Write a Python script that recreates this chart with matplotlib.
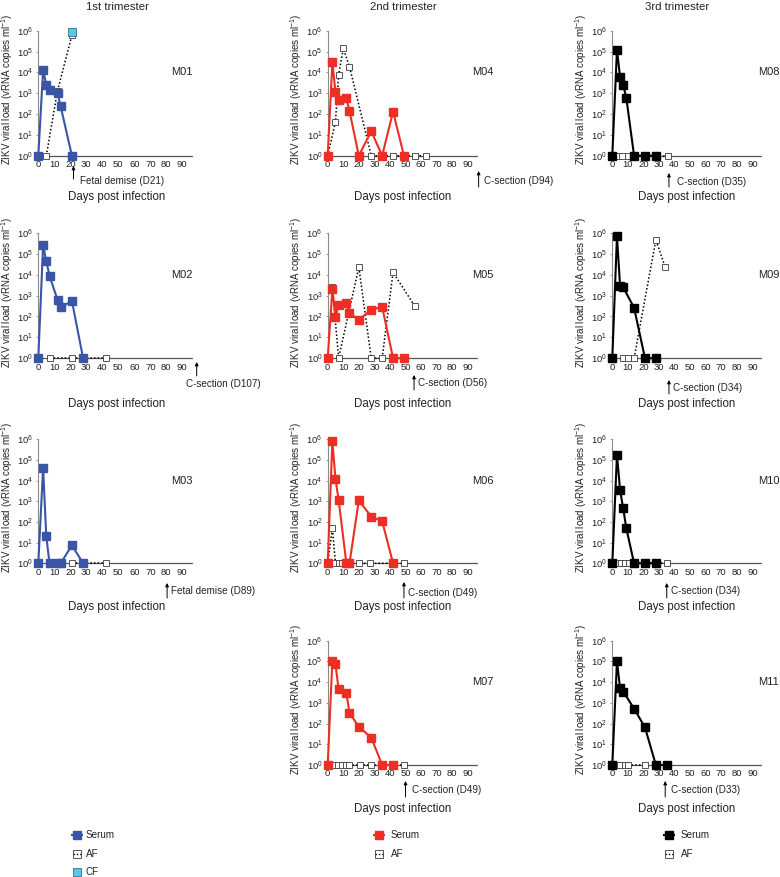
import matplotlib
matplotlib.use('Agg')
import matplotlib.pyplot as plt
import matplotlib.transforms as mtransforms
from matplotlib.ticker import NullLocator, LogFormatterSciNotation

plt.rcParams['font.family'] = ['Liberation Sans', 'DejaVu Sans']
plt.rcParams['mathtext.fontset'] = 'custom'
plt.rcParams['mathtext.rm'] = 'Liberation Sans'
plt.rcParams['mathtext.it'] = 'Liberation Sans:italic'
plt.rcParams['mathtext.bf'] = 'Liberation Sans:bold'

# ---------------- data ----------------
trimesters = ['1st trimester', '2nd trimester', '3rd trimester']
x_ticks = [0, 10, 20, 30, 40, 50, 60, 70, 80, 90]
y_ticks = [1, 1e1, 1e2, 1e3, 1e4, 1e5, 1e6]

m01_serum_day = [0, 3, 5, 7, 12, 14, 21]
m01_serum_vl = [1, 1.3e4, 2.5e3, 1.5e3, 1.0e3, 230, 1]
m01_af_day = [5, 12, 21]
m01_af_vl = [1, 1.3e3, 6e5]
m01_cf_day = [21]
m01_cf_vl = [9e5]

m02_serum_day = [0, 3, 5, 7, 12, 14, 21, 28]
m02_serum_vl = [1, 2.6e5, 4.4e4, 9e3, 630, 270, 560, 1]
m02_af_day = [7, 21, 42]
m02_af_vl = [1, 1, 1]

m03_serum_day = [0, 3, 5, 7, 12, 14, 21, 28]
m03_serum_vl = [1, 4e4, 20, 1, 1, 1, 7.5, 1]
m03_af_day = [21, 42]
m03_af_vl = [1, 1]

m04_serum_day = [0, 3, 5, 7, 12, 14, 20, 28, 35, 42, 49]
m04_serum_vl = [1, 3e4, 1.1e3, 450, 600, 140, 1, 15, 1, 130, 1]
m04_af_day = [0, 5, 7, 10, 14, 28, 42, 49, 56, 63]
m04_af_vl = [1, 43, 7.4e3, 1.4e5, 1.9e4, 1, 1, 1, 1, 1]

m05_serum_day = [0, 3, 5, 7, 12, 14, 20, 28, 35, 42, 49]
m05_serum_vl = [1, 2e3, 95, 350, 420, 140, 70, 210, 290, 1, 1]
m05_af_day = [3, 7, 20, 28, 35, 42, 56]
m05_af_vl = [2.6e3, 1, 2.3e4, 1, 1, 1.3e4, 310]

m06_serum_day = [0, 3, 5, 7, 12, 14, 20, 28, 35, 42]
m06_serum_vl = [1, 8e5, 1.2e4, 1.2e3, 1, 1, 1.1e3, 180, 110, 1]
m06_af_day = [0, 3, 5, 7, 9.5, 20, 27.5, 49]
m06_af_vl = [1, 50, 1, 1, 1, 1, 1, 1]

m07_serum_day = [0, 3, 5, 7, 12, 14, 20, 28, 35, 42]
m07_serum_vl = [1, 1.1e5, 7.5e4, 4.5e3, 3e3, 330, 70, 21, 1, 1]
m07_af_day = [4, 6.5, 9, 11.5, 14, 21, 28, 49]
m07_af_vl = [1, 1, 1, 1, 1, 1, 1, 1]

m08_serum_day = [0, 3, 5, 7, 9, 14, 21, 28]
m08_serum_vl = [1, 1.2e5, 6e3, 2.5e3, 600, 1, 1, 1]
m08_af_day = [4, 6, 10, 36]
m08_af_vl = [1, 1, 1, 1]

m09_serum_day = [0, 3, 5, 7, 14, 21, 28]
m09_serum_vl = [1, 7e5, 2.9e3, 2.5e3, 260, 1, 1]
m09_af_day = [7, 10, 14, 28, 34]
m09_af_vl = [1, 1, 1, 4.7e5, 2.3e4]

m10_serum_day = [0, 3, 5, 7, 9, 14, 21, 28]
m10_serum_vl = [1, 1.8e5, 3.5e3, 450, 50, 1, 1, 1]
m10_af_day = [3, 5.5, 8, 10.5, 35]
m10_af_vl = [1, 1, 1, 1, 1]

m11_serum_day = [0, 3, 5, 7, 14, 21, 28, 35]
m11_serum_vl = [1, 1e5, 5e3, 3.5e3, 530, 65, 1, 1]
m11_af_day = [3, 5, 8, 10, 21]
m11_af_vl = [1, 1, 1, 1, 1]

outcome_text = {
    'M01': 'Fetal demise (D21)', 'M02': 'C-section (D107)', 'M03': 'Fetal demise (D89)',
    'M04': 'C-section (D94)', 'M05': 'C-section (D56)', 'M06': 'C-section (D49)',
    'M07': 'C-section (D49)', 'M08': 'C-section (D35)', 'M09': 'C-section (D34)',
    'M10': 'C-section (D34)', 'M11': 'C-section (D33)',
}

# ---------------- styling / layout ----------------
BLUE = '#3A55A5'
RED = '#EE2D24'
BLACK = '#000000'
CF_COL = '#5CC6E8'
col_colors = [BLUE, RED, BLACK]

W, H = 780, 877
fig = plt.figure(figsize=(7.8, 8.77), dpi=100)


def fx(px):
    return px / W


def fy(py):
    return 1 - py / H


XMAX = 96
col_left = [38.3, 327.7, 612.3]
col_ppd = [1.6, 1.556, 1.556]
row_top = [30.7, 233.0, 439.3, 640.7]
row_bot = [155.7, 358.2, 563.3, 765.0]
label_frac = [0.868, 0.964, 0.975]
title_x = [117, 403, 677]
xlabel_x = [117, 403, 687]
xlabel_y = [197, 404, 607, 809]

panels = [
    ('M01', 0, 0, m01_serum_day, m01_serum_vl, m01_af_day, m01_af_vl, m01_cf_day, m01_cf_vl),
    ('M02', 1, 0, m02_serum_day, m02_serum_vl, m02_af_day, m02_af_vl, None, None),
    ('M03', 2, 0, m03_serum_day, m03_serum_vl, m03_af_day, m03_af_vl, None, None),
    ('M04', 0, 1, m04_serum_day, m04_serum_vl, m04_af_day, m04_af_vl, None, None),
    ('M05', 1, 1, m05_serum_day, m05_serum_vl, m05_af_day, m05_af_vl, None, None),
    ('M06', 2, 1, m06_serum_day, m06_serum_vl, m06_af_day, m06_af_vl, None, None),
    ('M07', 3, 1, m07_serum_day, m07_serum_vl, m07_af_day, m07_af_vl, None, None),
    ('M08', 0, 2, m08_serum_day, m08_serum_vl, m08_af_day, m08_af_vl, None, None),
    ('M09', 1, 2, m09_serum_day, m09_serum_vl, m09_af_day, m09_af_vl, None, None),
    ('M10', 2, 2, m10_serum_day, m10_serum_vl, m10_af_day, m10_af_vl, None, None),
    ('M11', 3, 2, m11_serum_day, m11_serum_vl, m11_af_day, m11_af_vl, None, None),
]

# annotation: arrow day position, arrow top px, arrow bottom px, text gap px, text centre px
annot_pos = {
    'M01': (22, 166, 179, 7, 181),
    'M04': (97, 171, 187, 5, 181),
    'M08': (36.4, 173, 187, 8, 182),
    'M05': (55.5, 375, 390, 4, 383),
    'M09': (36.4, 380, 394, 4, 388),
    'M03': (80.5, 583, 598, 4, 591),
    'M06': (49, 582, 598, 4, 593),
    'M10': (35, 583, 598, 4, 591),
    'M07': (50, 781, 797, 6, 790),
    'M11': (34, 781, 797, 6, 790),
}

for name, r, c, sd, sv, ad, av, cd, cv in panels:
    w = XMAX * col_ppd[c]
    h = row_bot[r] - row_top[r]
    ax = fig.add_axes([fx(col_left[c]), fy(row_bot[r]), fx(w), h / H])
    color = col_colors[c]
    ax.plot(ad, av, linestyle=(0, (1, 1.4)), color='black', lw=1.1, marker='s', ms=4.6,
            mfc='white', mec='#3a3a3a', mew=0.6, clip_on=False, zorder=3)
    ax.plot(sd, sv, '-', color=color, lw=1.5, marker='s', ms=5.2, mfc=color, mec=color,
            clip_on=False, zorder=4)
    if cd is not None:
        ax.plot(cd, cv, 's', ms=5.6, mfc=CF_COL, mec='#2f6f8f', mew=0.6, clip_on=False, zorder=5)
    ax.set_yscale('log')
    ax.set_ylim(1, 1e6)
    ax.set_xlim(0, XMAX)
    ax.set_yticks(y_ticks)
    ax.yaxis.set_minor_locator(NullLocator())
    ax.yaxis.set_major_formatter(LogFormatterSciNotation())
    ax.set_xticks(x_ticks)
    ax.tick_params(axis='x', length=0, pad=3.2, labelsize=6.8, colors='#222222')
    ax.tick_params(axis='y', length=1.5, width=0.6, pad=2.2, labelsize=6.8, color='#888888',
                   labelcolor='#222222')
    for s in ('top', 'right'):
        ax.spines[s].set_visible(False)
    ax.spines['left'].set_color('#8a8a8a')
    ax.spines['left'].set_linewidth(0.8)
    ax.spines['bottom'].set_color('#555555')
    ax.spines['bottom'].set_linewidth(0.9)
    ax.spines['bottom'].set_linestyle((0, (1, 1)))
    ax.patch.set_alpha(0)
    ax.set_ylabel('ZIKV viral load (vRNA copies ml$^{-1}$)', fontsize=7.0, color='#222222')
    ax.yaxis.set_label_coords(-23.5 / w, 0.53)
    ax.text(label_frac[c], 1e4, name, transform=mtransforms.blended_transform_factory(ax.transAxes, ax.transData),
            fontsize=8, ha='left', va='center', color='#222222')

    blend = mtransforms.blended_transform_factory(ax.transData, fig.transFigure)
    if name == 'M02':
        day, atop, abot = 99, 362, 376
        ax.annotate('', xy=(day, fy(atop)), xytext=(day, fy(abot)), xycoords=blend, textcoords=blend,
                    arrowprops=dict(arrowstyle='-|>', color='black', lw=0.7, mutation_scale=5,
                                    shrinkA=0, shrinkB=0), annotation_clip=False)
        fig.text(fx(186), fy(384), outcome_text[name], fontsize=7.1, ha='left', va='center', color='#222222')
    else:
        day, atop, abot, gap, ty = annot_pos[name]
        ax.annotate('', xy=(day, fy(atop)), xytext=(day, fy(abot)), xycoords=blend, textcoords=blend,
                    arrowprops=dict(arrowstyle='-|>', color='black', lw=0.7, mutation_scale=5,
                                    shrinkA=0, shrinkB=0), annotation_clip=False)
        ax.text(day + gap / col_ppd[c], fy(ty), outcome_text[name], transform=blend, fontsize=7.1,
                ha='left', va='center', color='#222222')

    fig.text(fx(xlabel_x[c]), fy(xlabel_y[r]), 'Days post infection', fontsize=8.3,
             ha='center', va='center', color='#222222')

for c in range(3):
    fig.text(fx(title_x[c]), fy(7), trimesters[c], fontsize=8.2, ha='center', va='center', color='#222222')

# ---------------- legends ----------------
lg = fig.add_axes([0, 0, 1, 1])
lg.set_xlim(0, W)
lg.set_ylim(H, 0)
lg.axis('off')
leg_marker_x = [77, 379, 669]
leg_text_x = [86, 391, 681]
leg_y = [835, 854, 872]
for c in range(3):
    mx, tx = leg_marker_x[c], leg_text_x[c]
    col = col_colors[c]
    lg.plot([mx - 5, mx + 5], [leg_y[0], leg_y[0]], color=col, lw=1.5)
    lg.plot([mx], [leg_y[0]], 's', ms=5.6, color=col)
    lg.text(tx, leg_y[0], 'Serum', fontsize=7.1, va='center', ha='left', color='#222222')
    lg.plot([mx - 4, mx + 4], [leg_y[1], leg_y[1]], color='black', lw=1.0, linestyle=(0, (1, 1.4)))
    lg.plot([mx], [leg_y[1]], 's', ms=5.2, mfc='none', mec='#3a3a3a', mew=0.6)
    lg.text(tx, leg_y[1], 'AF', fontsize=7.1, va='center', ha='left', color='#222222')
lg.plot([leg_marker_x[0]], [leg_y[2]], 's', ms=5.6, mfc=CF_COL, mec='#2f6f8f', mew=0.6)
lg.text(leg_text_x[0], leg_y[2], 'CF', fontsize=7.1, va='center', ha='left', color='#222222')

fig.savefig('out.png', dpi=100)
